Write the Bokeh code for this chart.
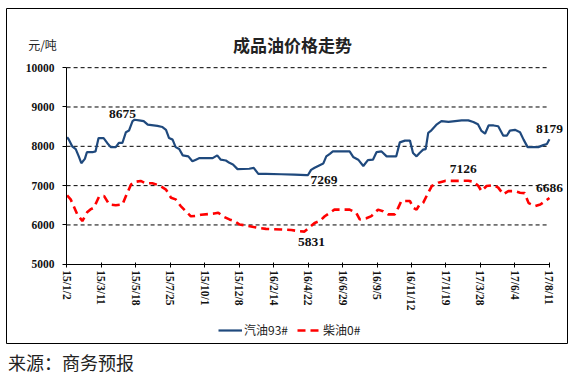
import math
from bokeh.plotting import figure
from bokeh.models import Range1d, FixedTicker, Label, Legend, LegendItem, Div
from bokeh.layouts import column
from bokeh.embed import file_html
from bokeh.resources import INLINE

title_text = "成品油价格走势"
unit_text = "元/吨"
source_text = "来源：商务预报"
series_names = ["汽油93#", "柴油0#"]

# x axis: days since 2015-01-02
tick_days = [0, 68, 136, 204, 272, 340, 408, 476, 544, 612, 680, 748, 816, 884, 952]
tick_labels = ["15/1/2", "15/3/11", "15/5/18", "15/7/25", "15/10/1", "15/12/8", "16/2/14",
               "16/4/22", "16/6/29", "16/9/5", "16/11/12", "17/1/19", "17/3/28", "17/6/4", "17/8/11"]
y_ticks = [5000, 6000, 7000, 8000, 9000, 10000]

gas_day = [1, 4, 11, 18, 24, 29, 36, 40, 51, 57, 63, 73, 80, 87, 97, 103, 110, 117, 123, 130,
           134, 143, 152, 160, 179, 189, 196, 202, 209, 215, 222, 229, 240, 248, 255, 262, 288,
           297, 304, 314, 321, 328, 337, 360, 369, 378, 393, 423, 449, 473, 476, 482, 489, 496,
           506, 512, 519, 525, 558, 565, 575, 585, 594, 604, 611, 621, 631, 650, 657, 667, 677,
           683, 690, 696, 703, 708, 713, 718, 730, 739, 753, 766, 779, 792, 802, 811, 818, 825,
           832, 842, 851, 861, 868, 874, 884, 894, 901, 909, 930, 940, 947, 952]
gas_price = [8230, 8180, 8000, 7930, 7745, 7570, 7680, 7850, 7850, 7870, 8210, 8210, 8085, 7980,
             7980, 8085, 8085, 8360, 8400, 8640, 8675, 8660, 8640, 8550, 8520, 8490, 8420, 8210,
             8170, 7980, 7930, 7770, 7745, 7620, 7660, 7700, 7700, 7770, 7660, 7640, 7580, 7540,
             7420, 7430, 7450, 7300, 7300, 7290, 7280, 7265, 7269, 7400, 7455, 7500, 7560, 7745,
             7810, 7870, 7870, 7730, 7660, 7500, 7650, 7660, 7850, 7870, 7745, 7745, 8100, 8145,
             8145, 7830, 7745, 7830, 7915, 7930, 8340, 8390, 8560, 8640, 8620, 8640, 8660, 8660,
             8620, 8560, 8390, 8320, 8530, 8530, 8510, 8270, 8270, 8400, 8420, 8360, 8170, 7980,
             7980, 8030, 8060, 8179]

diesel_day = [1, 8, 14, 21, 31, 41, 47, 54, 64, 74, 84, 97, 110, 117, 127, 133, 146, 156, 169,
              182, 196, 206, 215, 225, 235, 245, 255, 265, 291, 299, 308, 321, 331, 341, 354, 377,
              393, 423, 443, 459, 469, 479, 489, 499, 509, 519, 528, 558, 571, 578, 591, 601, 614,
              624, 634, 647, 654, 660, 677, 683, 690, 696, 703, 713, 720, 733, 746, 772, 792, 802,
              812, 818, 828, 842, 851, 861, 871, 884, 894, 903, 911, 924, 934, 944, 952]
diesel_price = [6750, 6650, 6480, 6270, 6100, 6330, 6395, 6440, 6720, 6735, 6520, 6500, 6520,
                6735, 7030, 7090, 7120, 7060, 7060, 7010, 6900, 6690, 6650, 6480, 6350, 6220,
                6230, 6260, 6290, 6310, 6220, 6140, 6100, 6010, 5985, 5925, 5900, 5885, 5870,
                5840, 5831, 5940, 6050, 6100, 6220, 6310, 6390, 6390, 6310, 6140, 6170, 6225,
                6390, 6350, 6270, 6270, 6440, 6610, 6610, 6440, 6390, 6520, 6560, 6820, 6990,
                7075, 7120, 7120, 7126, 7100, 6990, 6860, 6990, 7015, 6950, 6780, 6860, 6860,
                6820, 6810, 6555, 6480, 6520, 6610, 6686]

note_day = [134, 476, 469, 792, 952, 952]
note_value = [8675, 7269, 5831, 7126, 8179, 6686]

# The frame fills the bordered box; ranges padded so the axes sit where the reference has them.
p = figure(width=563, height=337, output_backend="svg", toolbar_location=None,
           x_range=Range1d(-118.5, 987.6), y_range=Range1d(2985, 11505),
           min_border_left=1, min_border_right=1, min_border_top=1, min_border_bottom=1,
           margin=(7, 0, 0, 5))
p.title.visible = False
p.outline_line_color = "#000000"
p.outline_line_width = 1
p.background_fill_color = "white"
p.border_fill_color = "white"
p.xgrid.visible = False
p.ygrid.visible = False

# dashed horizontal gridlines spanning the tick range
n = len(y_ticks) - 1
p.segment(x0=[tick_days[0]] * n, x1=[tick_days[-1]] * n, y0=y_ticks[1:], y1=y_ticks[1:],
          line_color="#000000", line_width=1, line_dash="4 3")

r_gas = p.line(gas_day, gas_price, line_color="#1F497D", line_width=2.2)
r_die = p.line(diesel_day, diesel_price, line_color="#FF0000", line_width=2.6, line_dash="8 5")

for ax in (p.xaxis[0], p.yaxis[0]):
    ax.axis_line_color = "#000000"
    ax.axis_line_width = 1
    ax.major_tick_line_color = "#000000"
    ax.minor_tick_line_color = None
    ax.major_label_text_font = "Liberation Serif"
    ax.major_label_text_font_style = "bold"
    ax.major_label_text_font_size = "11.5px"
    ax.major_label_text_color = "#111111"

p.xaxis.fixed_location = y_ticks[0]
p.xaxis.ticker = FixedTicker(ticks=tick_days)
p.xaxis.bounds = (tick_days[0], tick_days[-1])
p.xaxis.major_label_overrides = {d: s for d, s in zip(tick_days, tick_labels)}
p.xaxis.major_label_orientation = -math.pi / 2
p.xaxis.major_tick_in = 2
p.xaxis.major_tick_out = 3
p.xaxis.major_label_standoff = 3

p.yaxis.fixed_location = tick_days[0]
p.yaxis.ticker = FixedTicker(ticks=y_ticks)
p.yaxis.bounds = (y_ticks[0], y_ticks[-1])
p.yaxis.major_tick_in = 0
p.yaxis.major_tick_out = 4
p.yaxis.major_label_standoff = 8

offsets = [(-12, 6), (16, -5), (7, -10), (-5, 12), (0, 10), (0, 10)]
for d, v, (dx, dy) in zip(note_day, note_value, offsets):
    p.add_layout(Label(x=d, y=v, text=str(v), x_offset=dx, y_offset=dy,
                       text_align="center", text_baseline="middle",
                       text_font="Liberation Serif", text_font_style="bold",
                       text_font_size="13.5px", text_color="#111111"))

p.add_layout(Label(x=286, y=299, x_units="screen", y_units="screen", text=title_text,
                   text_align="center", text_baseline="middle", text_font="Noto Sans CJK SC",
                   text_font_style="bold", text_font_size="17px", text_color="#222222"))
p.add_layout(Label(x=36, y=299, x_units="screen", y_units="screen", text=unit_text,
                   text_align="center", text_baseline="middle", text_font="Noto Sans CJK SC",
                   text_font_size="12px", text_color="#222222"))

legend = Legend(items=[LegendItem(label=series_names[0], renderers=[r_gas]),
                       LegendItem(label=series_names[1], renderers=[r_die])],
                orientation="horizontal", location=(212, 5),
                border_line_color=None, background_fill_alpha=0,
                label_text_font="Noto Sans CJK SC", label_text_font_size="12px",
                label_text_color="#222222", glyph_width=24, glyph_height=14,
                spacing=9, padding=0, margin=0, label_standoff=2)
p.add_layout(legend)

src = Div(text=source_text, width=300, height=22, margin=(7, 0, 0, 8),
          styles={"font-family": "Noto Sans CJK SC", "font-size": "18px",
                  "line-height": "22px", "color": "#222222"})

layout = column(p, src, spacing=0)
open("out.html", "w").write(file_html(layout, INLINE))
